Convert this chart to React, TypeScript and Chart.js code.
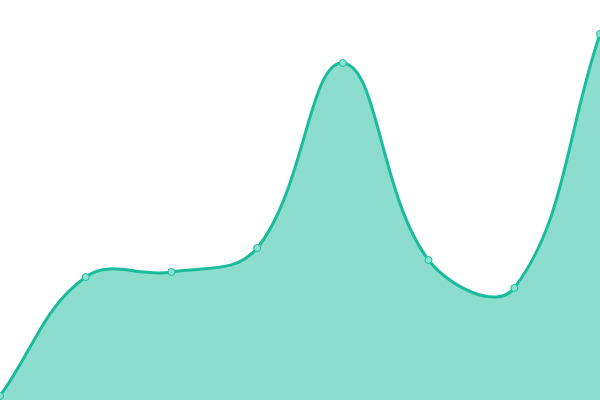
import { useEffect, useRef } from 'react';
import Chart from 'chart.js/auto';

const labels = ['1', '2', '3', '4', '5', '6', '7', '8'];
const values = [4, 123, 128, 152, 337, 140, 112, 366];

export default function App() {
  const canvasRef = useRef<HTMLCanvasElement>(null);

  useEffect(() => {
    document.body.style.margin = '0';
    if (!canvasRef.current) return;
    const chart = new Chart(canvasRef.current, {
      type: 'line',
      data: {
        labels,
        datasets: [
          {
            data: values,
            fill: true,
            backgroundColor: 'rgba(26, 188, 156, 0.5)',
            borderColor: '#1abc9c',
            borderWidth: 3,
            tension: 0.4,
            pointRadius: 3.5,
            pointBorderWidth: 1,
            pointBackgroundColor: '#8de1d0',
            pointBorderColor: '#1abc9c',
          },
        ],
      },
      options: {
        animation: false,
        responsive: false,
        layout: { padding: 0, autoPadding: false },
        scales: {
          x: { display: false },
          y: { display: false, min: 0, max: 400 },
        },
        plugins: {
          legend: { display: false },
          tooltip: { enabled: false },
        },
      },
    });
    return () => chart.destroy();
  }, []);

  return (
    <div style={{ width: 600, height: 400 }}>
      <canvas ref={canvasRef} width={600} height={400} />
    </div>
  );
}
